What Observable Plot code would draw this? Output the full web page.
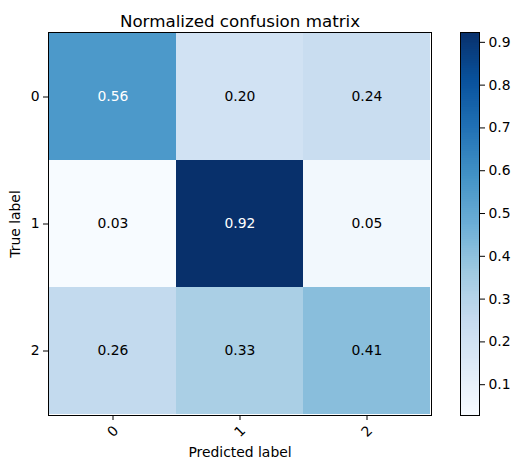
<!DOCTYPE html>
<html>
<head>
<meta charset="utf-8">
<script src="https://cdn.jsdelivr.net/npm/d3@7"></script>
<script src="https://cdn.jsdelivr.net/npm/@observablehq/plot@0.6"></script>
<style>
  body { margin: 0; background: #fff; }
  #chart { position: relative; width: 521px; height: 470px; }
  #chart svg { position: absolute; left: 0; top: 0; }
</style>
</head>
<body>
<div id="chart"></div>
<script>
// Clases (etiquetas de los ejes)
const clases = ["0", "1", "2"]
// Filas de la matriz normalizada (fila = etiqueta real)
const fila0 = [0.56, 0.20, 0.24]
const fila1 = [0.028, 0.923, 0.049]
const fila2 = [0.26, 0.33, 0.41]
// Ticks de la barra de color
const barraTicks = [0.1, 0.2, 0.3, 0.4, 0.5, 0.6, 0.7, 0.8, 0.9]

// Colores del mapa "Blues" (interpolacion lineal como matplotlib)
const blues9 = ["#f7fbff", "#deebf7", "#c6dbef", "#9ecae1", "#6baed6", "#4292c6", "#2171b5", "#08519c", "#08306b"]

const filas = [fila0, fila1, fila2]
const tabla = []
filas.forEach((fila, i) => fila.forEach((v, j) => tabla.push({real: clases[i], pred: clases[j], valor: v})))

const vmin = d3.min(tabla, d => d.valor)
const vmax = d3.max(tabla, d => d.valor)
const umbral = vmax / 2

const colorScale = {type: "linear", domain: [vmin, vmax], interpolate: d3.piecewise(d3.interpolateRgb, blues9)}
const estilo = {background: "transparent", fontFamily: "DejaVu Sans, sans-serif", fontSize: "13.9px", color: "black"}
const fmt = d3.format(".2f")

let chart = Plot.plot({
  width: 521,
  height: 470,
  marginLeft: 48,
  marginRight: 90,
  marginTop: 32,
  marginBottom: 55,
  style: estilo,
  x: {domain: clases, padding: 0, label: null},
  y: {domain: clases, padding: 0, label: null},
  color: colorScale,
  marks: [
    Plot.cell(tabla, {x: "pred", y: "real", fill: "valor", inset: 0, shapeRendering: "crispEdges"}),
    Plot.text(tabla.filter(d => d.valor > umbral), {x: "pred", y: "real", text: d => fmt(d.valor), fill: "white", fontSize: 13.9}),
    Plot.text(tabla.filter(d => d.valor <= umbral), {x: "pred", y: "real", text: d => fmt(d.valor), fill: "black", fontSize: 13.9}),
    Plot.frame({stroke: "black"}),
    Plot.axisY({tickSize: 5, tickPadding: 4, label: "True label", labelAnchor: "center", labelOffset: 38, labelArrow: "none"}),
    Plot.axisX({tickSize: 5, tickPadding: 11, tickRotate: -45, textAnchor: "middle", label: "Predicted label", labelAnchor: "center", labelOffset: 41, labelArrow: "none"}),
    Plot.text(["Normalized confusion matrix"], {frameAnchor: "top", dy: -17, fontSize: 16.7, fill: "black"})
  ]
})

// Barra de color: franjas del dominio
const nPasos = 200
const pasos = d3.range(nPasos).map(i => [vmin + (vmax - vmin) * i / nPasos, vmin + (vmax - vmin) * (i + 1) / nPasos])

let barra = Plot.plot({
  width: 521,
  height: 470,
  marginLeft: 460,
  marginRight: 42,
  marginTop: 32,
  marginBottom: 55,
  style: estilo,
  x: {domain: [0, 1], axis: null},
  y: {domain: [vmin, vmax], label: null},
  color: colorScale,
  marks: [
    Plot.rect(pasos, {x1: d => 0, x2: d => 1, y1: d => d[0], y2: d => d[1], fill: d => (d[0] + d[1]) / 2, shapeRendering: "crispEdges"}),
    Plot.frame({stroke: "black"}),
    Plot.axisY({anchor: "right", ticks: barraTicks, tickFormat: ".1f", tickSize: 5, tickPadding: 4, label: null})
  ]
})

d3.select('#chart').append(() => chart)
d3.select('#chart').append(() => barra)
</script>
</body>
</html>
